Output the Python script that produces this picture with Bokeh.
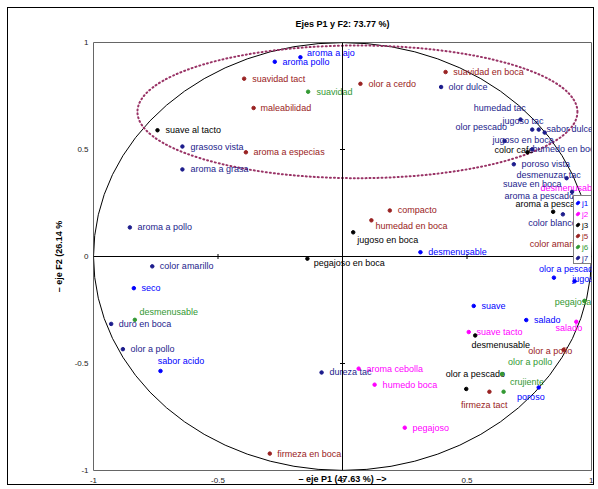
import math
from bokeh.plotting import figure
from bokeh.models import (ColumnDataSource, Span, Legend, LegendItem,
                          FixedTicker, Range1d, LinearAxis)
from bokeh.core.properties import value
from bokeh.embed import file_html
from bokeh.resources import INLINE

# ---------------- data ----------------
title_text = "Ejes P1 y F2: 73.77 %)"
x_label = "\u2013 eje P1 (47.63 %) \u2013>"
y_label = "\u2013 eje F2 (26.14 %"
ticks = [-1, -0.5, 0, 0.5, 1]
tick_labels = ["-1", "-0.5", "0", "0.5", "1"]

series = ["j1", "j2", "j3", "j5", "j6", "j7"]
series_colors = ["#0000ff", "#ff00ff", "#000000", "#992222", "#339933", "#1c1c8c"]

j1_names = ["aroma a ajo", "aroma pollo", "seco", "desmenusable", "sabor acido",
            "olor a pescado", "jugoso", "suave", "salado", "poroso"]
j1_f1 = [-0.169, -0.272, -0.838, 0.313, -0.731, 0.849, 0.932, 0.527, 0.738, 0.788]
j1_f2 = [0.931, 0.910, -0.148, 0.020, -0.535, -0.099, -0.116, -0.231, -0.297, -0.612]

j2_names = ["desmenusable", "salado", "suave tacto", "aroma cebolla", "humedo boca", "pegajoso"]
j2_f1 = [0.956, 0.939, 0.507, 0.065, 0.129, 0.250]
j2_f2 = [0.263, -0.305, -0.353, -0.524, -0.599, -0.800]

j3_names = ["suave al tacto", "jugoso en boca", "pegajoso en boca", "color cafe",
            "aroma a pescado", "desmenusable", "olor a pescado"]
j3_f1 = [-0.743, 0.043, -0.141, 0.743, 0.846, 0.533, 0.497]
j3_f2 = [0.590, 0.113, -0.010, 0.487, 0.209, -0.369, -0.619]

j5_names = ["suavidad tact", "maleabilidad", "aroma a especias", "suavidad en boca",
            "olor a cerdo", "compacto", "humedad en boca", "color amarillo",
            "olor a pollo", "firmeza tact", "firmeza en boca"]
j5_f1 = [-0.395, -0.357, -0.388, 0.414, 0.072, 0.190, 0.116, 0.968, 0.888, 0.590, -0.292]
j5_f2 = [0.831, 0.694, 0.487, 0.862, 0.807, 0.215, 0.169, 0.054, -0.436, -0.632, -0.921]

j6_names = ["suavidad", "desmenusable", "pegajosa", "olor a pollo", "crujiente"]
j6_f1 = [-0.138, -0.834, 0.972, 0.641, 0.647]
j6_f2 = [0.770, -0.296, -0.207, -0.549, -0.632]

j7_names = ["grasoso vista", "aroma a grasa", "aroma a pollo", "color amarillo",
            "duro en boca", "olor a pollo", "dureza tac", "olor dulce", "humedad tac",
            "jugoso tac", "olor pescado", "sabor dulce", "jugoso en boca",
            "humedo en boca", "poroso vista", "desmenuzar tac", "suave en boca",
            "aroma a pescado", "color blanco"]
j7_f1 = [-0.643, -0.643, -0.854, -0.764, -0.929, -0.882, -0.084, 0.396, 0.715,
         0.762, 0.788, 0.812, 0.651, 0.762, 0.688, 0.900, 0.922, 0.932, 0.885]
j7_f2 = [0.514, 0.407, 0.136, -0.046, -0.315, -0.433, -0.542, 0.792, 0.640,
         0.593, 0.593, 0.579, 0.540, 0.501, 0.431, 0.366, 0.302, 0.277, 0.197]

# label placement (screen px offsets from each point, +dy = down)
j1_lab = [(6.7, -4.7), (7.7, 0), (7.7, 0), (7.7, 0), (-2.7, -10), (-15, -8.7),
          (-2.3, -2), (7.7, 0), (7.7, 0), (-21.6, 9.3)]
j2_lab = [(-40, -12.3), (-20.7, 6.3), (7.7, 0), (7.7, 0), (8, 0), (7.7, 0)]
j3_lab = [(8, 0), (4, 8), (6.3, 4.6), (-33, -2), (-37.7, -7.7), (-3.7, 9.6), (-20.4, -15)]
j5_lab = [(8, 0), (7, 0), (7.7, 0), (7.7, 0), (8, 0), (8, 0), (4, 5.7), (-53.7, -1),
          (-35.3, 1), (-28.3, 13.3), (7.4, 0)]
j6_lab = [(8.3, 0), (4.7, -7.7), (-29.7, 1.7), (6, -12), (6.3, -10)]
j7_lab = [(8, 0), (8, 0), (7.7, 0), (7.6, 0), (7.6, 0), (7.7, 0), (8, 0), (7.3, 0),
          (-46.7, -11.3), (-29.7, -8.3), (-83.3, -2.3), (1.7, -3.3), (-12, -0.7),
          (0.3, 0), (7.7, 0), (-50, -3), (-69, -7.7), (-70, -1.3), (-34.6, 8.7)]

all_names = [j1_names, j2_names, j3_names, j5_names, j6_names, j7_names]
all_f1 = [j1_f1, j2_f1, j3_f1, j5_f1, j6_f1, j7_f1]
all_f2 = [j1_f2, j2_f2, j3_f2, j5_f2, j6_f2, j7_f2]
all_lab = [j1_lab, j2_lab, j3_lab, j5_lab, j6_lab, j7_lab]

FONT_S = "Liberation Sans"
FONT = value(FONT_S)

# ---------------- figure ----------------
p = figure(width=587, height=478, output_backend="svg", toolbar_location=None,
           x_range=Range1d(-1, 1), y_range=Range1d(-1, 1),
           min_border_left=85, min_border_right=4, min_border_top=34,
           min_border_bottom=15)
p.styles = {"border": "1px solid black", "margin-left": "7px", "margin-top": "7px"}
p.grid.visible = False
p.outline_line_color = "#666666"
p.background_fill_color = "white"
p.border_fill_color = "white"

for ax in (p.xaxis[0], p.yaxis[0]):
    ax.ticker = FixedTicker(ticks=ticks)
    ax.major_label_overrides = {t: l for t, l in zip(ticks, tick_labels)}
    ax.major_tick_out = 0
    ax.major_tick_in = 0
    ax.minor_tick_out = 0
    ax.minor_tick_in = 0
    ax.axis_line_color = None
    ax.major_label_text_font = FONT_S
    ax.major_label_text_font_size = "8px"
    ax.major_label_text_color = "#222222"
    ax.axis_label_text_font = FONT_S
    ax.axis_label_text_font_size = "9px"
    ax.axis_label_text_font_style = "bold"
    ax.axis_label_text_color = "black"
p.xaxis.major_label_standoff = 7
p.xaxis.axis_label = x_label
p.xaxis.axis_label_standoff = -12
p.yaxis.major_label_standoff = 5
p.yaxis.axis_label = y_label
p.yaxis.axis_label_standoff = 8

# chart title, carried by a bare axis above the plotting area
top = LinearAxis(ticker=FixedTicker(ticks=[]), axis_label=title_text,
                 axis_line_color=None, major_tick_out=0, minor_tick_out=0,
                 major_tick_in=0, minor_tick_in=0, axis_label_standoff=14,
                 axis_label_text_font=FONT_S, axis_label_text_font_size="9px",
                 axis_label_text_font_style="bold", axis_label_text_color="black")
p.add_layout(top, "above")

# zero lines
p.add_layout(Span(location=0, dimension="height", line_color="black", line_width=1))
p.add_layout(Span(location=0, dimension="width", line_color="black", line_width=1))
inner = [t for t in ticks if t not in (-1, 0, 1)]
p.scatter(x=inner, y=[0] * len(inner), marker="dash", angle=math.pi / 2, size=5,
          line_color="black")
p.scatter(x=[0] * len(inner), y=inner, marker="dash", size=5, line_color="black")

# correlation circle
p.ellipse(x=0, y=0, width=2, height=2, fill_color=None, line_color="black", line_width=1)

# dotted highlighting ellipse
p.ellipse(x=0.06, y=0.676, width=1.767, height=0.62, fill_color=None,
          line_color="#993366", line_width=2, line_dash="1 3", line_cap="round")

# points and labels
renderers = []
for s, col, names, f1, f2, lab in zip(series, series_colors, all_names, all_f1, all_f2, all_lab):
    src = ColumnDataSource(dict(x=f1, y=f2, name=names,
                                dx=[d[0] for d in lab], dy=[d[1] for d in lab]))
    r = p.scatter("x", "y", source=src, size=3.5, fill_color=col, line_color=col)
    renderers.append(r)
    p.text("x", "y", text="name", source=src, x_offset="dx", y_offset="dy",
           text_color=col, text_font=FONT, text_font_size="9px",
           text_baseline="middle", text_align="left")

# legend: a framed box plus per-item coloured labels
common = dict(glyph_height=10, glyph_width=6, label_height=10, label_width=7,
              label_standoff=2, padding=1, spacing=1, margin=0,
              label_text_font=FONT_S, label_text_font_size="8px")
box = Legend(items=[LegendItem(label=s, renderers=[r]) for s, r in zip(series, renderers)],
             location=(480, 206), border_line_color="black", border_line_width=1,
             background_fill_color="white", background_fill_alpha=1,
             label_text_alpha=0, **common)
p.add_layout(box)
for k, (s, r, col) in enumerate(zip(series, renderers, series_colors)):
    lg = Legend(items=[LegendItem(label=s, renderers=[r])],
                location=(480, 261 - 11 * k), border_line_alpha=0,
                background_fill_alpha=0, label_text_color=col, **common)
    p.add_layout(lg)

open("out.html", "w").write(file_html(p, INLINE))
